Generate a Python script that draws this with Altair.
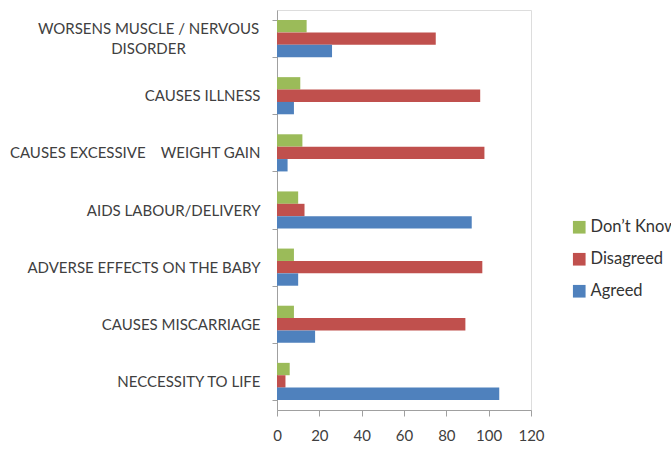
import altair as alt
import pandas as pd

categories = [
    "WORSENS MUSCLE / NERVOUS DISORDER",
    "CAUSES ILLNESS",
    "CAUSES EXCESSIVE\u00a0\u00a0\u00a0 WEIGHT GAIN",
    "AIDS LABOUR/DELIVERY",
    "ADVERSE EFFECTS ON THE BABY",
    "CAUSES MISCARRIAGE",
    "NECCESSITY TO LIFE",
]
series = ["Don\u2019t Know", "Disagreed", "Agreed"]
colors = ["#9BBB59", "#C0504D", "#4F81BD"]
dont_know = [14, 11, 12, 10, 8, 8, 6]
disagreed = [75, 96, 98, 13, 97, 89, 4]
agreed = [26, 8, 5, 92, 10, 18, 105]
x_ticks = [0, 20, 40, 60, 80, 100, 120]

rows = []
for i, c in enumerate(categories):
    for s, vals in zip(series, [dont_know, disagreed, agreed]):
        rows.append({"category": c, "series": s, "value": vals[i]})
df = pd.DataFrame(rows)

first = categories[0]
label_expr = (
    f"datum.value == '{first}' ? ['WORSENS MUSCLE / NERVOUS', 'DISORDER'] : datum.value"
)
test = f"datum.value == '{first}'"

chart = (
    alt.Chart(df)
    .mark_bar()
    .encode(
        x=alt.X(
            "value:Q",
            scale=alt.Scale(domain=[0, 120], nice=False),
            axis=alt.Axis(
                values=x_ticks,
                title=None,
                grid=False,
                domainColor="#A0A0A0",
                tickColor="#A0A0A0",
                tickSize=6,
                labelFont="Lato",
                labelFontSize=15,
                labelColor="#404040",
                labelPadding=12,
                labelFlush=False,
                labelOverlap=False,
            ),
        ),
        y=alt.Y(
            "category:N",
            sort=categories,
            scale=alt.Scale(paddingInner=0.35, paddingOuter=0.175),
            axis=alt.Axis(
                title=None,
                tickBand="extent",
                domainColor="#A0A0A0",
                tickColor="#A0A0A0",
                tickSize=5,
                labelFont="Lato",
                labelFontSize=15,
                labelColor="#404040",
                labelLineHeight=20,
                labelExpr=label_expr,
                labelAlign=alt.condition(test, alt.value("center"), alt.value("right")),
                labelPadding=alt.condition(test, alt.value(124), alt.value(12)),
                labelOffset=alt.condition(test, alt.value(-10), alt.value(0)),
                labelLimit=400,
            ),
        ),
        yOffset=alt.YOffset("series:N", sort=series),
        color=alt.Color(
            "series:N",
            sort=series,
            scale=alt.Scale(domain=series, range=colors),
            legend=alt.Legend(
                title=None,
                orient="none",
                legendX=294,
                legendY=209,
                symbolType="square",
                symbolSize=160,
                symbolStrokeWidth=0,
                labelFont="Lato",
                labelFontSize=16.5,
                labelColor="#333333",
                rowPadding=15,
                labelOffset=3,
                labelLimit=200,
            ),
        ),
    )
    .properties(
        width=254,
        height=400,
        autosize=alt.AutoSizeParams(type="none"),
        padding={"left": 277, "top": 10, "right": 140, "bottom": 39},
    )
    .configure_view(stroke=None)
    .configure(background="white")
)

chart.save("out.html", embed_options={"renderer": "svg", "actions": False})
